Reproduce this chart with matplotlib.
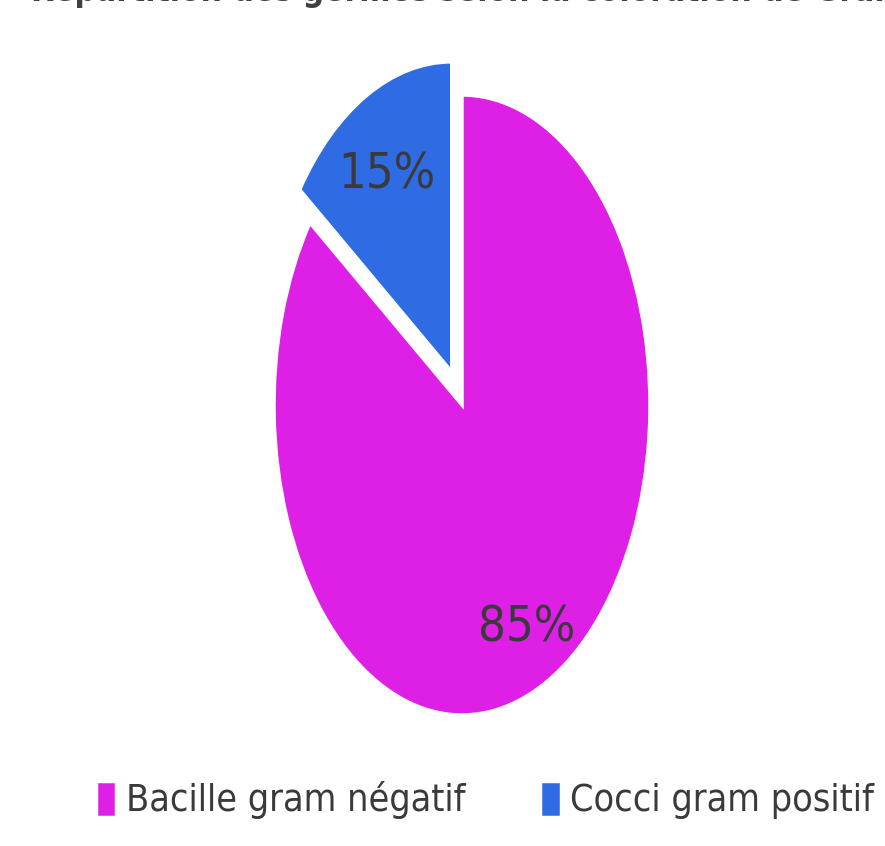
import matplotlib
matplotlib.use("Agg")
import matplotlib.pyplot as plt
from matplotlib.transforms import offset_copy

categories = ["Bacille gram négatif", "Cocci gram positif"]
values = [85, 15]
colors = ["#DE20E6", "#2F6BE3"]
title = "Répartition des germes selon la coloration de Gram"

plt.rcParams['font.family'] = ['DejaVu Sans']
plt.rcParams['font.stretch'] = 'condensed'

W, H = 885, 846
fig = plt.figure(figsize=(W / 100, H / 100), dpi=100)

# ellipse centre and radii in pixels
cx, cy, rx, ry = 462, 405, 188, 310
lim = 1.3
ax = fig.add_axes([(cx - lim * rx) / W, (H - cy - lim * ry) / H,
                   2 * lim * rx / W, 2 * lim * ry / H])

wedges, texts, autotexts = ax.pie(
    values, colors=colors, startangle=90, counterclock=False,
    explode=[0, 0.12], autopct=lambda p: f"{p:.0f}%", pctdistance=0.76,
    wedgeprops=dict(edgecolor="white", linewidth=2.5),
    textprops=dict(color="#3a3a3a", fontsize=35, stretch="condensed"))
for t in autotexts:
    t.set_transform(offset_copy(t.get_transform(), fig=fig, x=0, y=-13, units="dots"))
ax.set_aspect("auto")
ax.set_xlim(-lim, lim)
ax.set_ylim(-lim, lim)
ax.axis("off")

fig.text(0.035, 1 - 1 / H, title, fontsize=24, fontweight="bold",
         color="#404040", va="baseline", ha="left")

fig.legend(wedges, categories, loc="center", bbox_to_anchor=(0.548, 1 - 800 / H),
           ncol=2, frameon=False, fontsize=27, handlelength=0.55, handleheight=1.1,
           handletextpad=0.25, columnspacing=2.0, labelcolor="#3a3a3a")

fig.savefig("out.png", dpi=100)
